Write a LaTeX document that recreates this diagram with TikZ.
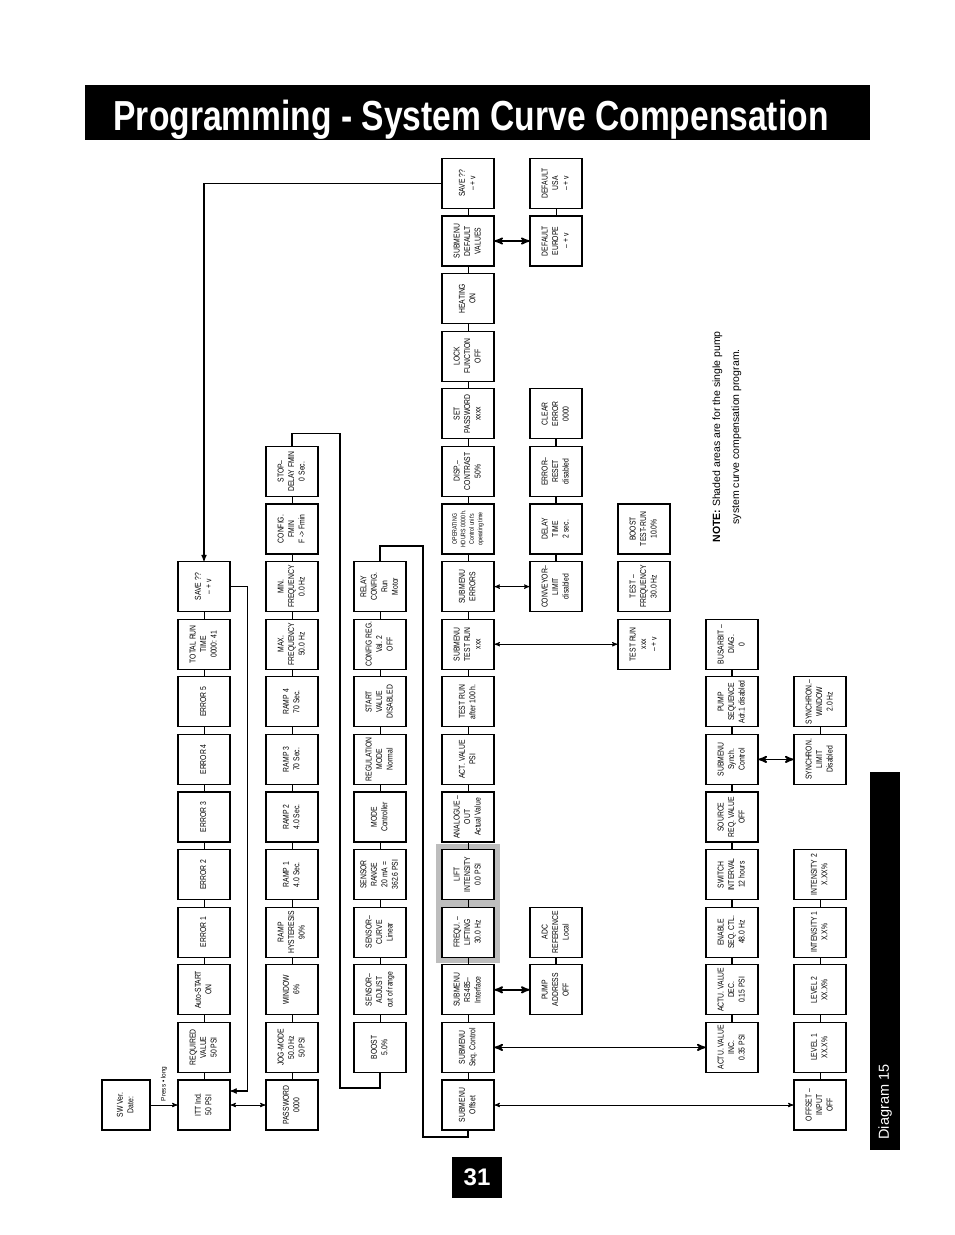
\documentclass[tikz,border=0pt]{standalone}
\usepackage{fontspec}
\setmainfont{Liberation Sans}
\usepackage{graphicx}
\usepackage{tikz}
\usetikzlibrary{positioning,arrows,fit,backgrounds}

\definecolor{shade}{gray}{0.74}
\newcommand{\vt}[1]{\rotatebox{90}{\scalebox{0.8}[1]{\begin{tabular}{@{}c@{}}#1\end{tabular}}}}

\tikzset{
  box/.style={draw, rectangle, line width=1.3pt, fill=white, inner sep=0pt,
    minimum width=52pt, minimum height=50pt, font=\fontsize{8.5}{10.5}\selectfont},
  link/.style={line width=0.9pt},
  heavy/.style={line width=2.4pt},
  wire/.style={line width=1.2pt},
  both/.style={<->, line width=0.9pt},
  bothheavy/.style={<->, line width=1.8pt},
}

\begin{document}
\begin{tikzpicture}[x=1pt,y=-1pt,node distance=57.6pt and 88pt,on grid,>=stealth']
\useasboundingbox (0,0) rectangle (954,1235);

% heading, page number, side tab
\node[fill=black, minimum width=785pt, minimum height=55pt, anchor=north west] (titlebar) at (85,85) {};
\node[anchor=base west, text=white, font=\bfseries\fontsize{42}{42}\selectfont] (title) at (110,130)
  {\scalebox{0.8}[1]{Programming - System Curve Compensation}};
\node[fill=black, text=white, minimum width=50pt, minimum height=41pt, font=\bfseries\fontsize{24}{24}\selectfont] (pagenum) at (477,1177.5) {31};
\node[fill=black, minimum width=30pt, minimum height=378pt, anchor=north west] (sidetab) at (870,772) {};
\node[rotate=90, anchor=west, text=white, font=\fontsize{14.5}{14.5}\selectfont] (diagram) at (885,1143) {Diagram 15};

% start
\node[box, minimum width=48pt] (swver) at (126,1105) {\vt{SW Ver.\\Date:}};

% main values
\node[box] (itt) at (204,1105) {\vt{ITT Ind.\\50 PSI}};
\node[box] (reqval) [above=of itt] {\vt{REQUIRED\\VALUE\\50 PSI}};
\node[box] (autostart) [above=of reqval] {\vt{Auto-START\\ON}};
\node[box] (error1) [above=of autostart] {\vt{ERROR 1}};
\node[box] (error2) [above=of error1] {\vt{ERROR 2}};
\node[box] (error3) [above=of error2] {\vt{ERROR 3}};
\node[box] (error4) [above=of error3] {\vt{ERROR 4}};
\node[box] (error5) [above=of error4] {\vt{ERROR 5}};
\node[box] (runtime) [above=of error5] {\vt{TOTAL RUN\\TIME\\0000: 41}};
\node[box] (savea) [above=of runtime] {\vt{SAVE ??\\– + v}};

% password level
\node[box] (password) [right=of itt] {\vt{PASSWORD\\0000}};
\node[box] (jogmode) [above=of password] {\vt{JOG-MODE\\50.0 Hz\\50 PSI}};
\node[box] (window) [above=of jogmode] {\vt{WINDOW\\6\%}};
\node[box] (hyster) [above=of window] {\vt{RAMP\\HYSTERESIS\\90\%}};
\node[box] (ramp1) [above=of hyster] {\vt{RAMP 1\\4.0 Sec.}};
\node[box] (ramp2) [above=of ramp1] {\vt{RAMP 2\\4.0 Sec.}};
\node[box] (ramp3) [above=of ramp2] {\vt{RAMP 3\\70 Sec.}};
\node[box] (ramp4) [above=of ramp3] {\vt{RAMP 4\\70 Sec.}};
\node[box] (maxfreq) [above=of ramp4] {\vt{MAX.\\FREQUENCY\\50.0 Hz}};
\node[box] (minfreq) [above=of maxfreq] {\vt{MIN.\\FREQUENCY\\0.0 Hz}};
\node[box] (cfgfmin) [above=of minfreq] {\vt{CONFIG.\\FMIN\\F -> Fmin}};
\node[box] (stopdelay) [above=of cfgfmin] {\vt{STOP–\\DELAY FMIN\\0 Sec.}};

% sensor level
\node[box] (boost) [right=of jogmode] {\vt{BOOST\\5.0\%}};
\node[box] (sensadj) [above=of boost] {\vt{SENSOR–\\ADJUST\\out of range}};
\node[box] (senscurve) [above=of sensadj] {\vt{SENSOR–\\CURVE\\Linear}};
\node[box] (sensrange) [above=of senscurve] {\vt{SENSOR\\RANGE\\20 mA =\\362.6 PSI}};
\node[box] (mode) [above=of sensrange] {\vt{MODE\\Controller}};
\node[box] (regmode) [above=of mode] {\vt{REGULATION\\MODE\\Normal}};
\node[box] (startval) [above=of regmode] {\vt{START\\VALUE\\DISABLED}};
\node[box] (cfgreg) [above=of startval] {\vt{CONFIG REG.\\Val. 2\\OFF}};
\node[box] (relay) [above=of cfgreg] {\vt{RELAY\\CONFIG.\\Run\\Motor}};

% submenus
\node[box] (suboffset) at (468,1105) {\vt{SUBMENU\\Offset}};
\node[box] (subseq) [above=of suboffset] {\vt{SUBMENU\\Seq. Control}};
\node[box] (subrs) [above=of subseq] {\vt{SUBMENU\\RS485–\\Interface}};
\node[box] (frequlift) [above=of subrs] {\vt{FREQU. –\\LIFTING\\30.0 Hz}};
\node[box] (liftint) [above=of frequlift] {\vt{LIFT\\INTENSITY\\0.0 PSI}};
\node[box] (analogue) [above=of liftint] {\vt{ANALOGUE –\\OUT\\Actual Value}};
\node[box] (actval) [above=of analogue] {\vt{ACT. VALUE\\PSI}};
\node[box] (testafter) [above=of actval] {\vt{TEST RUN\\after 100 h.}};
\node[box] (subtest) [above=of testafter] {\vt{SUBMENU\\TEST RUN\\xxx}};
\node[box] (suberr) [above=of subtest] {\vt{SUBMENU\\ERRORS}};
\node[box, font=\fontsize{6.5}{8.5}\selectfont] (ophours) [above=of suberr] {\vt{OPERATING\\HOURS 0000 h.\\Control unit's\\operating time}};
\node[box] (contrast) [above=of ophours] {\vt{DISP.–\\CONTRAST\\50\%}};
\node[box] (setpass) [above=of contrast] {\vt{SET\\PASSWORD\\xxxx}};
\node[box] (lockfn) [above=of setpass] {\vt{LOCK\\FUNCTION\\OFF}};
\node[box] (heating) [above=of lockfn] {\vt{HEATING\\ON}};
\node[box] (subdefault) [above=of heating] {\vt{SUBMENU\\DEFAULT\\VALUES}};
\node[box] (saveb) [above=of subdefault] {\vt{SAVE ??\\– + v}};

% submenu entries
\node[box] (pumpaddr) [right=of subrs] {\vt{PUMP\\ADDRESS\\OFF}};
\node[box] (adcref) [above=of pumpaddr] {\vt{ADC\\REFERENCE\\Local}};
\node[box] (conveyor) [right=of suberr] {\vt{CONVEYOR–\\LIMIT\\disabled}};
\node[box] (delaytime) [above=of conveyor] {\vt{DELAY\\TIME\\2 sec.}};
\node[box] (errreset) [above=of delaytime] {\vt{ERROR–\\RESET\\disabled}};
\node[box] (clearerr) [above=of errreset] {\vt{CLEAR\\ERROR\\0000}};
\node[box] (defeurope) [right=of subdefault] {\vt{DEFAULT\\EUROPE\\– + v}};
\node[box] (defusa) [above=of defeurope] {\vt{DEFAULT\\USA\\– + v}};

\node[box] (testxxx) [right=176pt of subtest] {\vt{TEST RUN\\xxx\\– + v}};
\node[box] (testfreq) [above=of testxxx] {\vt{TEST –\\FREQUENCY\\30.0 Hz}};
\node[box] (boosttest) [above=of testfreq] {\vt{BOOST\\TEST-RUN\\10.0\%}};

\node[box] (actuinc) [right=264pt of subseq] {\vt{ACTU. VALUE\\INC.\\0.35 PSI}};
\node[box] (actudec) [above=of actuinc] {\vt{ACTU. VALUE\\DEC.\\0.15 PSI}};
\node[box] (enableseq) [above=of actudec] {\vt{ENABLE\\SEQ. CTL.\\48.0 Hz}};
\node[box] (switchint) [above=of enableseq] {\vt{SWITCH\\INTERVAL\\12 hours}};
\node[box] (sourcereq) [above=of switchint] {\vt{SOURCE\\REQ. VALUE\\OFF}};
\node[box] (subsynch) [above=of sourcereq] {\vt{SUBMENU\\Synch.\\Control}};
\node[box] (pumpseq) [above=of subsynch] {\vt{PUMP\\SEQUENCE\\Adr.1 disabled}};
\node[box] (busarbit) [above=of pumpseq] {\vt{BUSARBIT –\\DIAG.\\0}};

\node[box] (offsetin) [right=352pt of suboffset] {\vt{OFFSET –\\INPUT\\OFF}};
\node[box] (level1) [above=of offsetin] {\vt{LEVEL 1\\XX.X\%}};
\node[box] (level2) [above=of level1] {\vt{LEVEL 2\\XX.X\%}};
\node[box] (intens1) [above=of level2] {\vt{INTENSITY 1\\X.X\%}};
\node[box] (intens2) [above=of intens1] {\vt{INTENSITY 2\\X.XX\%}};
\node[box] (synlimit) [right=of subsynch] {\vt{SYNCHRON.\\LIMIT\\Disabled}};
\node[box] (synwindow) [above=of synlimit] {\vt{SYNCHRON.–\\WINDOW\\2.0 Hz}};

% shaded single pump part
\begin{scope}[on background layer]
  \node[fill=shade, fit=(frequlift)(liftint), inner sep=5pt] (shaded) {};
\end{scope}

\node[rotate=90, anchor=north west, align=center, font=\fontsize{10.5}{19}\selectfont] (note) at (709,546)
  {\textbf{NOTE:} Shaded areas are for the single pump\\system curve compensation program.};

% chains
\draw[link] (itt) -- (reqval) -- (autostart) -- (error1) -- (error2) -- (error3) -- (error4) -- (error5) -- (runtime) -- (savea);
\draw[link] (password) -- (jogmode) -- (window) -- (hyster) -- (ramp1) -- (ramp2) -- (ramp3) -- (ramp4) -- (maxfreq) -- (minfreq) -- (cfgfmin) -- (stopdelay);
\draw[link] (boost) -- (sensadj) -- (senscurve) -- (sensrange) -- (mode) -- (regmode) -- (startval) -- (cfgreg) -- (relay);
\draw[link] (suboffset) -- (subseq) -- (subrs) -- (frequlift) -- (liftint) -- (analogue) -- (actval) -- (testafter) -- (subtest) -- (suberr) -- (ophours) -- (contrast) -- (setpass) -- (lockfn) -- (heating) -- (subdefault) -- (saveb);
\draw[heavy] (pumpaddr) -- (adcref);
\draw[heavy] (conveyor) -- (delaytime) -- (errreset) -- (clearerr);
\draw[link] (defeurope) -- (defusa);
\draw[heavy] (actuinc) -- (actudec) -- (enableseq) -- (switchint) -- (sourcereq) -- (subsynch) -- (pumpseq) -- (busarbit);
\draw[link] (offsetin) -- (level1) -- (level2) -- (intens1) -- (intens2);
\draw[link] (synlimit) -- (synwindow);

% jumps between menus
\draw[link, ->] (swver) -- node[rotate=90, anchor=west, font=\fontsize{6.5}{7}\selectfont] (presslong) {Press • long} (itt);
\path[both] (itt) edge (password)
  (suberr) edge (conveyor)
  (subtest) edge (testxxx)
  (suboffset) edge (offsetin);
\path[bothheavy] (subrs) edge (pumpaddr)
  (subdefault) edge (defeurope)
  (subseq) edge (actuinc)
  (subsynch) edge (synlimit);

\draw[wire, ->] (savea.east) -- ++(17,0) |- ([yshift=14pt]itt.east);
\draw[wire, ->] (saveb.west) -| (savea.north);
\coordinate (stopturn) at (340,1088);
\draw[wire] (stopdelay.north) -- ++(0,-12) -| (stopturn) -| (boost.south);
\coordinate (relayturn) at (423,1137);
\draw[wire] (relay.north) -- ++(0,-15) -| (relayturn) -| (suboffset.south);
\end{tikzpicture}
\end{document}
